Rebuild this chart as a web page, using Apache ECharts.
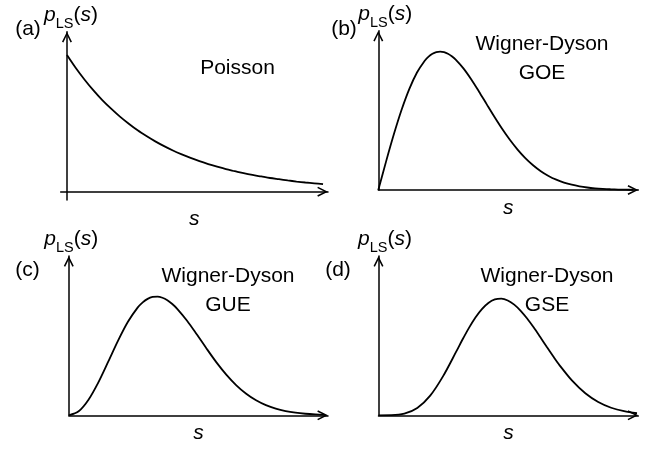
<!DOCTYPE html>
<html>
<head>
<meta charset="utf-8">
<script src="https://cdn.jsdelivr.net/npm/echarts@6/dist/echarts.min.js"></script>
<style>
html,body{margin:0;padding:0;background:#fff;}
#chart{width:648px;height:452px;}
</style>
</head>
<body>
<div id="chart"></div>
<script>
// ---- data ----
const sPoisson = [0,0.1,0.2,0.3,0.4,0.5,0.6,0.7,0.8,0.9,1.0,1.1,1.2,1.3,1.4,1.5,1.6,1.7,1.8,1.9,2.0,2.1,2.2,2.3,2.4,2.5,2.6,2.7,2.8,2.9];
const pPoisson = [1,0.905,0.819,0.741,0.670,0.607,0.549,0.497,0.449,0.407,0.368,0.333,0.301,0.273,0.247,0.223,0.202,0.183,0.165,0.150,0.135,0.122,0.111,0.100,0.091,0.082,0.074,0.067,0.061,0.055];

const sGOE = [0,0.1,0.2,0.3,0.4,0.5,0.6,0.65,0.7,0.75,0.8,0.85,0.9,0.95,1.0,1.1,1.2,1.3,1.4,1.5,1.6,1.7,1.8,1.9,2.0,2.1,2.2,2.3,2.4,2.5,2.6,2.7,2.8,2.9,3.0,3.1,3.2,3.3];
const pGOE = [0,0.1559,0.3044,0.4391,0.5541,0.6454,0.7104,0.7327,0.7483,0.7574,0.7602,0.7570,0.7483,0.7345,0.7162,0.6680,0.6084,0.5415,0.4717,0.4025,0.3365,0.2759,0.2220,0.1752,0.1358,0.1033,0.0772,0.0567,0.0409,0.0290,0.0202,0.0138,0.0093,0.0062,0.0040,0.0026,0.0016,0.0010];

const sGUE = [0,0.1,0.2,0.3,0.4,0.5,0.6,0.7,0.75,0.8,0.85,0.9,0.95,1.0,1.05,1.1,1.2,1.3,1.4,1.5,1.6,1.7,1.8,1.9,2.0,2.1,2.2,2.3,2.4,2.5,2.6];
const pGUE = [0,0.0320,0.1233,0.2602,0.4232,0.5896,0.7381,0.8514,0.8911,0.9187,0.9337,0.9364,0.9274,0.9076,0.8783,0.8405,0.7465,0.6371,0.5240,0.4158,0.3188,0.2364,0.1697,0.1181,0.0797,0.0521,0.0331,0.0204,0.0122,0.0071,0.0040];

const sGSE = [0,0.1,0.2,0.3,0.4,0.5,0.6,0.65,0.7,0.75,0.8,0.85,0.9,0.95,1.0,1.05,1.1,1.15,1.2,1.25,1.3,1.35,1.4,1.5,1.6,1.7,1.8,1.9,2.0];
const pGSE = [0,0.0011,0.0169,0.0766,0.2067,0.4116,0.6654,0.7956,0.9184,1.0272,1.1158,1.1797,1.2164,1.2248,1.2062,1.1624,1.0977,1.0166,0.9237,0.8242,0.7224,0.6225,0.5274,0.3606,0.2313,0.1397,0.0795,0.0427,0.0217];

const panelLabels = ['(a)','(b)','(c)','(d)'];
const ensembleNames = ['Poisson','Wigner-Dyson\nGOE','Wigner-Dyson\nGUE','Wigner-Dyson\nGSE'];
const yAxisName = '{i|p}{sub|LS}{n|(}{i|s}{n|)}';
const xAxisName = 's';

// ---- chart ----
const FONT = '"Liberation Sans", Arial, Helvetica, sans-serif';
const INK = '#000';
const arrowPath = 'path://M5,0 L10,10 L8.6,10.7 L5,3.4 L1.4,10.7 L0,10 Z';

const pairs = (xs, ys) => xs.map((x, i) => [x, ys[i]]);
const curves = [pairs(sPoisson, pPoisson), pairs(sGOE, pGOE), pairs(sGUE, pGUE), pairs(sGSE, pGSE)];

const grids = [
  {left: 60.7, top: 31.7, width: 267.3, height: 168.3},
  {left: 378.3, top: 30.7, width: 260, height: 159.3},
  {left: 68.8, top: 256, width: 259.2, height: 159.3},
  {left: 378.5, top: 256, width: 259.8, height: 159.3}
];
const xRanges = [[-0.071, 2.956], [0, 3.36], [0, 2.63], [0, 2.01]];
const yRanges = [[-0.061, 1.170], [0, 0.875], [0, 1.257], [0, 1.673]];
const xNameGaps = [9, 8, 7, 7];
const yNameShift = [8, 14, 5, 13];

const axisLineCommon = {
  show: true,
  onZero: true,
  symbol: ['none', arrowPath],
  symbolSize: [10, 10.7],
  symbolOffset: [0, -5.35],
  lineStyle: {color: INK, width: 1.5}
};

const rich = {
  i: {fontFamily: FONT, fontSize: 21, fontStyle: 'italic', lineHeight: 24, verticalAlign: 'top', color: INK},
  n: {fontFamily: FONT, fontSize: 21, lineHeight: 24, verticalAlign: 'top', color: INK},
  sub: {fontFamily: FONT, fontSize: 14.5, lineHeight: 14, verticalAlign: 'top', padding: [11.75, 0, 0, 0], color: INK}
};

const option = {
  animation: false,
  backgroundColor: '#fff',
  grid: grids.map(g => Object.assign({outerBoundsMode: 'none', containLabel: false}, g)),
  xAxis: grids.map((g, k) => ({
    type: 'value', gridIndex: k,
    min: xRanges[k][0], max: xRanges[k][1],
    axisLine: axisLineCommon,
    axisTick: {show: false}, axisLabel: {show: false}, splitLine: {show: false},
    name: xAxisName, nameLocation: 'middle', nameGap: xNameGaps[k],
    nameTextStyle: {fontFamily: FONT, fontSize: 21, fontStyle: 'italic', color: INK}
  })),
  yAxis: grids.map((g, k) => ({
    type: 'value', gridIndex: k,
    min: yRanges[k][0], max: yRanges[k][1],
    axisLine: axisLineCommon,
    axisTick: {show: false}, axisLabel: {show: false}, splitLine: {show: false},
    name: yAxisName, nameLocation: 'end', nameGap: 3,
    nameTextStyle: {fontFamily: FONT, fontSize: 21, color: INK, padding: [0, 0, 0, yNameShift[k]], rich: rich}
  })),
  series: curves.map((d, k) => ({
    type: 'line', xAxisIndex: k, yAxisIndex: k,
    data: d, showSymbol: false, smooth: 0.3,
    lineStyle: {color: INK, width: 1.8},
    silent: true
  })),
  graphic: [
    {type: 'text', x: 28, y: 29, style: {text: panelLabels[0], font: '21px ' + FONT, fill: INK, align: 'center', verticalAlign: 'middle'}},
    {type: 'text', x: 344, y: 29, style: {text: panelLabels[1], font: '21px ' + FONT, fill: INK, align: 'center', verticalAlign: 'middle'}},
    {type: 'text', x: 27.5, y: 270, style: {text: panelLabels[2], font: '21px ' + FONT, fill: INK, align: 'center', verticalAlign: 'middle'}},
    {type: 'text', x: 338, y: 270, style: {text: panelLabels[3], font: '21px ' + FONT, fill: INK, align: 'center', verticalAlign: 'middle'}},
    {type: 'text', x: 237.5, y: 68, style: {text: ensembleNames[0], font: '21px ' + FONT, fill: INK, align: 'center', verticalAlign: 'middle'}},
    {type: 'text', x: 542, y: 59, style: {text: ensembleNames[1], font: '21px ' + FONT, lineHeight: 29, fill: INK, align: 'center', verticalAlign: 'middle'}},
    {type: 'text', x: 228, y: 291, style: {text: ensembleNames[2], font: '21px ' + FONT, lineHeight: 29, fill: INK, align: 'center', verticalAlign: 'middle'}},
    {type: 'text', x: 547, y: 291, style: {text: ensembleNames[3], font: '21px ' + FONT, lineHeight: 29, fill: INK, align: 'center', verticalAlign: 'middle'}}
  ]
};

const chart = echarts.init(document.getElementById('chart'), null, {renderer: 'canvas'});
chart.setOption(option);
</script>
</body>
</html>
